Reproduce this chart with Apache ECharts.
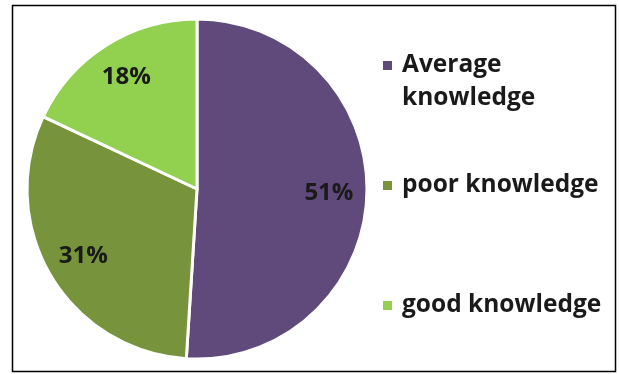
<!DOCTYPE html>
<html>
<head>
<meta charset="utf-8">
<script src="https://cdn.jsdelivr.net/npm/echarts@6/dist/echarts.min.js"></script>
<style>
  html, body { margin: 0; padding: 0; background: #ffffff; }
  #chart { width: 619px; height: 374px; }
</style>
</head>
<body>
<div id="chart"></div>
<script>
// Knowledge levels and their shares (%)
const categories = ['Average knowledge', 'poor knowledge', 'good knowledge'];
const shares = [51, 31, 18];
const colors = ['#604A7B', '#77933C', '#92D050'];

const FONT = '"Open Sans", Lato, sans-serif';
const CENTER = [197, 189];
const LINE_H = 33;

const chart = echarts.init(document.getElementById('chart'), null, { renderer: 'canvas' });

// the first entry wraps onto two lines; a blank line above keeps its marker level with the first line
const legendTops = [11, 164, 284];
const legends = categories.map((name, i) => ({
  orient: 'vertical',
  left: 376,
  top: legendTops[i],
  icon: 'rect',
  itemWidth: 11,
  itemHeight: 11,
  selectedMode: false,
  data: [name],
  formatter: n => (i === 0 ? ' \n' + n : n),
  textStyle: {
    fontFamily: FONT,
    fontWeight: 'bold',
    fontSize: 24.5,
    color: '#1a1a1a',
    lineHeight: LINE_H,
    width: 212,
    overflow: 'break',
    padding: [0, 0, 0, 4]
  }
}));

chart.setOption({
  animation: false,
  color: colors,
  legend: legends,
  graphic: [{
    type: 'rect',
    shape: { x: 12.5, y: 5.5, width: 603, height: 366 },
    style: { fill: 'none', stroke: '#000000', lineWidth: 1.5 },
    silent: true
  }],
  series: [{
    type: 'pie',
    center: CENTER,
    radius: [0, 170],
    startAngle: 90,
    clockwise: true,
    data: categories.map((name, i) => ({ name, value: shares[i] })),
    itemStyle: { borderColor: '#ffffff', borderWidth: 3 },
    label: {
      show: true,
      position: 'inside',
      formatter: p => p.value + '%',
      fontFamily: FONT,
      fontWeight: 'bold',
      fontSize: 24,
      color: '#1a1a1a'
    },
    // push the inside labels outward, along each slice's bisector
    labelLayout: p => {
      const r = p.labelRect;
      const lx = r.x + r.width / 2, ly = r.y + r.height / 2;
      const k = 1.5;
      return {
        x: CENTER[0] + (lx - CENTER[0]) * k,
        y: CENTER[1] + (ly - CENTER[1]) * k,
        align: 'center',
        verticalAlign: 'middle'
      };
    },
    labelLine: { show: false },
    emphasis: { disabled: true }
  }]
});
</script>
</body>
</html>
